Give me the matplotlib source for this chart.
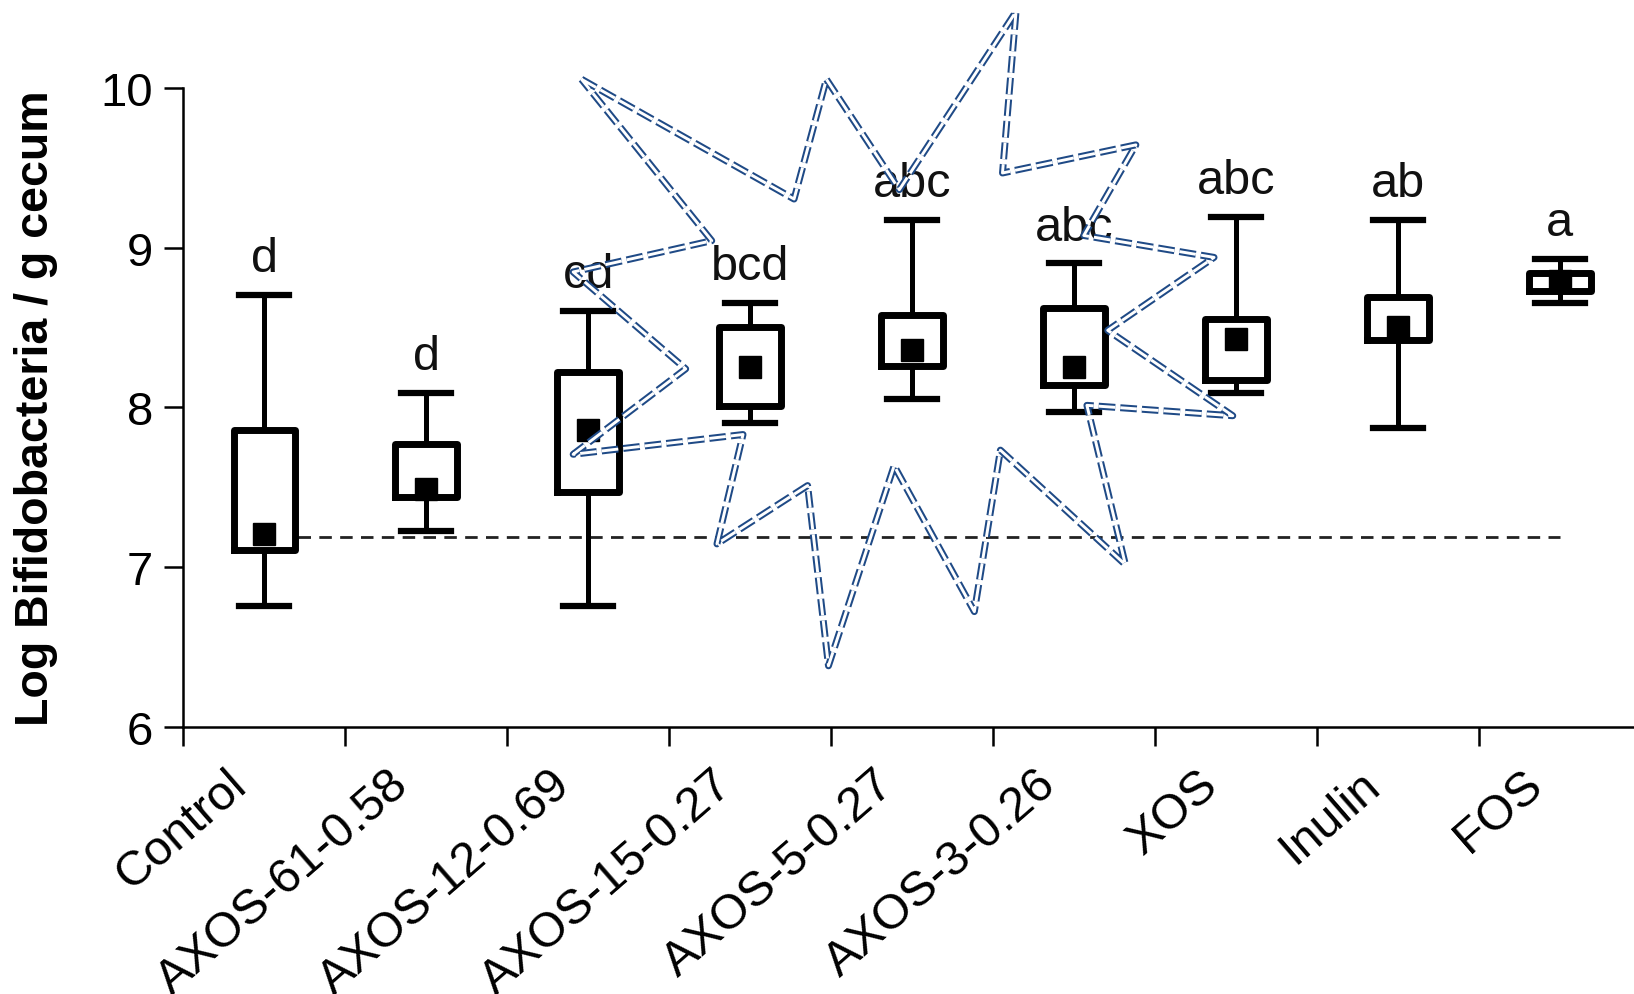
import numpy as np
import matplotlib
matplotlib.use("Agg")
import matplotlib.pyplot as plt
from matplotlib.lines import Line2D
from matplotlib.transforms import ScaledTranslation

plt.rcParams['font.family'] = ['Liberation Sans', 'DejaVu Sans']
plt.rcParams['lines.scale_dashes'] = False

# ------------------ DATOS ------------------

grupos = ["Control", "AXOS-61-0.58", "AXOS-12-0.69", "AXOS-15-0.27",
          "AXOS-5-0.27", "AXOS-3-0.26", "XOS", "Inulin", "FOS"]

bigote_inf = [6.76, 7.23, 6.76, 7.90, 8.05, 7.97, 8.09, 7.87, 8.65]
caja_inf   = [7.11, 7.44, 7.47, 8.01, 8.26, 8.14, 8.17, 8.42, 8.73]
caja_sup   = [7.86, 7.77, 8.22, 8.50, 8.58, 8.62, 8.55, 8.69, 8.84]
bigote_sup = [8.70, 8.09, 8.60, 8.65, 9.17, 8.90, 9.19, 9.17, 8.93]
medias     = [7.21, 7.49, 7.86, 8.25, 8.36, 8.25, 8.43, 8.50, 8.79]

letras = ["d", "d", "cd", "bcd", "abc", "abc", "abc", "ab", "a"]

nivel_basal = 7.19

# contorno de la estrella (px sobre un lienzo de 1568x955, origen arriba-izquierda)
estrella_px = [(558, 77), (762, 192), (793, 77), (863, 183), (975, 12),
               (962, 167), (1090, 140), (1040, 227), (1165, 248), (1063, 318),
               (1183, 400), (1043, 390), (1080, 543), (960, 433), (935, 588),
               (858, 448), (795, 640), (775, 467), (688, 523), (713, 418),
               (550, 437), (658, 355), (550, 262), (683, 232), (558, 77)]

# ------------------ FIGURA ------------------

fig = plt.figure(figsize=(16.34, 9.95), dpi=100)
ax = fig.add_axes([0.1122, 0.268, 0.892, 0.643])

x = np.arange(len(grupos))
stats = []
for i in range(len(grupos)):
    stats.append(dict(whislo=bigote_inf[i], q1=caja_inf[i], med=medias[i],
                      q3=caja_sup[i], whishi=bigote_sup[i], mean=medias[i],
                      fliers=[]))

ax.bxp(stats, positions=x, widths=0.38, capwidths=0.31, showmeans=True,
       showfliers=False, patch_artist=False,
       boxprops=dict(color='black', linewidth=5),
       whiskerprops=dict(color='black', linewidth=3.6),
       capprops=dict(color='black', linewidth=4.5),
       medianprops=dict(linestyle='none'),
       meanprops=dict(marker='s', markerfacecolor='black',
                      markeredgecolor='black', markersize=15.5),
       zorder=3)

# línea de referencia
ax.plot([0.206, 8.0], [nivel_basal, nivel_basal], color='#222222',
        linestyle=(0, (9, 6)), linewidth=2, zorder=1)

for i, txt in enumerate(letras):
    ax.text(x[i], bigote_sup[i] + 0.15, txt, ha='center', va='baseline',
            fontsize=35, color='#111111')

ax.set_xlim(-0.5, 8.5)
ax.set_ylim(6, 10)
ax.set_yticks([6, 7, 8, 9, 10])
ax.tick_params(axis='y', labelsize=34, length=14, width=1.8, pad=8,
               direction='out')
ax.set_xticks(np.arange(-0.5, 9.0, 1.0), minor=True)
ax.set_xticks(x)
ax.set_xticklabels(grupos, rotation=41, ha='right', va='center',
                   rotation_mode='anchor', fontsize=35)
ax.tick_params(axis='x', which='major', length=0, pad=38)
ax.tick_params(axis='x', which='minor', length=14, width=1.8, direction='out')
for lab in ax.get_xticklabels():
    lab.set_transform(lab.get_transform() +
                      ScaledTranslation(-0.24, 0.02, fig.dpi_scale_trans))

for s in ['top', 'right']:
    ax.spines[s].set_visible(False)
for s in ['left', 'bottom']:
    ax.spines[s].set_linewidth(1.8)

ax.set_ylabel("Log Bifidobacteria / g cecum", fontsize=33.5, fontweight='bold')
ax.yaxis.set_label_coords(-0.086, 0.5)

# estrella con doble trazo discontinuo
ex = [p[0] / 1568 for p in estrella_px]
ey = [1 - p[1] / 955 for p in estrella_px]
fig.add_artist(Line2D(ex, ey, transform=fig.transFigure, color='#1f4a86',
                      linewidth=5, dashes=(12, 3.6), dash_capstyle='butt',
                      zorder=10))
fig.add_artist(Line2D(ex, ey, transform=fig.transFigure, color='white',
                      linewidth=2.1, dashes=(12, 3.6), dash_capstyle='butt',
                      zorder=11))

fig.savefig("out.png", dpi=100)
